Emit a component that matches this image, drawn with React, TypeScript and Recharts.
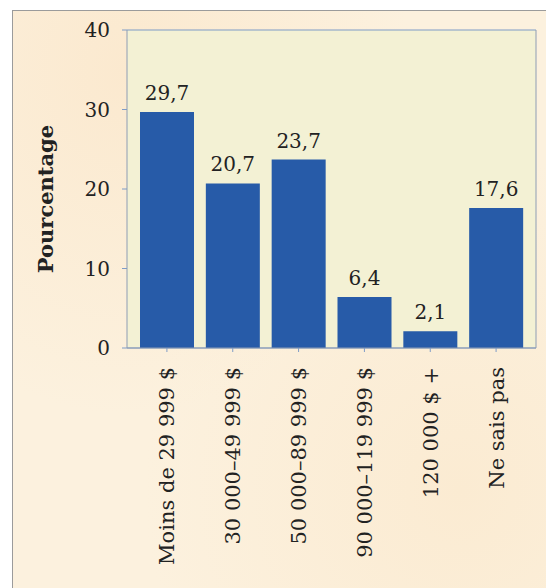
import React from 'react';
import { BarChart, Bar, XAxis, YAxis, CartesianGrid, LabelList } from 'recharts';

// Répartition des répondants selon le revenu du ménage
const categories = [
  'Moins de 29 999 $',
  '30 000–49 999 $',
  '50 000–89 999 $',
  '90 000–119 999 $',
  '120 000 $ +',
  'Ne sais pas',
];
const percentages = [29.7, 20.7, 23.7, 6.4, 2.1, 17.6];
const yTicks = [0, 10, 20, 30, 40];

const data = categories.map((name, i) => ({ name, value: percentages[i] }));

const FONT = '"DejaVu Serif", "Liberation Serif", serif';
const TEXT = '#222222';
const BAR = '#275ba8';
const GRID = '#7f9cc6';
const AXIS = '#8e9db4';

const fmt = (v: number) => v.toFixed(1).replace('.', ',');

const CategoryTick = (props: any) => {
  const { x, y, payload } = props;
  const ty = y + 13;
  return (
    <text
      x={x}
      y={ty}
      transform={`rotate(-90 ${x} ${ty})`}
      textAnchor="end"
      dy="0.36em"
      fill={TEXT}
      fontFamily={FONT}
      fontSize={21}
    >
      {payload.value}
    </text>
  );
};

const AxisTitle = () => (
  <text
    x={45}
    y={199}
    transform="rotate(-90 45 199)"
    textAnchor="middle"
    dy="0.36em"
    fill={TEXT}
    fontFamily={FONT}
    fontSize={21}
    fontWeight="bold"
  >
    Pourcentage
  </text>
);

export default function App() {
  return (
    <div
      style={{
        position: 'fixed',
        left: 0,
        top: 0,
        width: 546,
        height: 588,
        background: '#ffffff',
        overflow: 'hidden',
      }}
    >
      <div
        style={{
          position: 'absolute',
          left: 12,
          top: 10,
          width: 560,
          height: 600,
          border: '1px solid #9b9b9b',
          background:
            'radial-gradient(ellipse at 20% 10%, #fbe9cf 0%, rgba(251,233,207,0) 45%),' +
            'radial-gradient(ellipse at 80% 80%, #fbebd2 0%, rgba(251,235,210,0) 50%),' +
            '#fcf1de',
        }}
      />
      <div style={{ position: 'absolute', left: 0, top: 0 }}>
        <BarChart
          width={546}
          height={588}
          data={data}
          margin={{ top: 30, right: 0, bottom: 0, left: 0 }}
          barSize={54}
        >
          <CartesianGrid
            vertical={false}
            stroke={GRID}
            strokeWidth={1.2}
            fill="#f3f1d4"
            fillOpacity={1}
          />
          <XAxis
            dataKey="name"
            interval={0}
            height={240}
            padding={{ left: 7, right: 7 }}
            axisLine={{ stroke: AXIS }}
            tickLine={{ stroke: GRID }}
            tickSize={4}
            tick={<CategoryTick />}
          />
          <YAxis
            yAxisId="left"
            width={127}
            domain={[0, 40]}
            ticks={yTicks}
            interval={0}
            axisLine={{ stroke: AXIS }}
            tickLine={{ stroke: GRID }}
            tickSize={5}
            tickMargin={12}
            tick={{ fill: TEXT, fontFamily: FONT, fontSize: 20 }}
            label={<AxisTitle />}
          />
          <YAxis
            yAxisId="right"
            orientation="right"
            width={10}
            domain={[0, 40]}
            ticks={yTicks}
            tick={false}
            tickLine={false}
            axisLine={{ stroke: AXIS }}
          />
          <Bar yAxisId="left" dataKey="value" fill={BAR} isAnimationActive={false}>
            <LabelList
              dataKey="value"
              position="top"
              offset={12}
              formatter={(v: any) => fmt(Number(v))}
              fill={TEXT}
              fontFamily={FONT}
              fontSize={20}
            />
          </Bar>
        </BarChart>
      </div>
    </div>
  );
}
